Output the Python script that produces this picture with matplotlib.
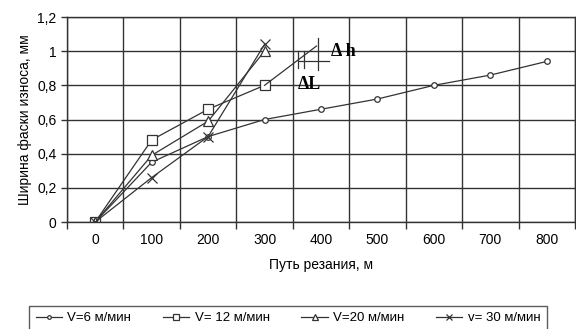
import matplotlib.pyplot as plt
import numpy as np

plt.rcParams['font.family'] = ['Liberation Sans', 'DejaVu Sans']

# путь резания, м
put = [0, 100, 200, 300, 400, 500, 600, 700, 800]
put_short = [0, 100, 200, 300]

v6 = [0, 0.35, 0.5, 0.6, 0.66, 0.72, 0.8, 0.86, 0.94]
v12 = [0, 0.48, 0.66, 0.8]
v20 = [0, 0.39, 0.59, 1.0]
v30 = [0, 0.26, 0.5, 1.04]

# продолжение кривой V=12 и построение dL / dh
ext_x = [300, 392]
ext_y = [0.8, 1.03]

y_ticks = [0, 0.2, 0.4, 0.6, 0.8, 1.0, 1.2]
y_labels = ['0', '0,2', '0,4', '0,6', '0,8', '1', '1,2']

fig = plt.figure(figsize=(5.76, 3.29), dpi=100)
ax = fig.add_axes([67 / 576, 1 - 222 / 329, 508 / 576, 205 / 329])

kw = dict(color='#333333', lw=0.9, mfc='white', mec='#333333', mew=0.9)
ax.plot(put, v6, marker='o', ms=4, label='V=6 м/мин', **kw)
ax.plot(put_short, v12, marker='s', ms=7, label='V= 12 м/мин', **kw)
ax.plot(put_short, v20, marker='^', ms=7, label='V=20 м/мин', **kw)
ax.plot(put_short, v30, marker='x', ms=7, label='v= 30 м/мин', **kw)

ax.plot(ext_x, ext_y, color='#333333', lw=0.9)
ax.plot([360, 415], [0.94, 0.94], color='#333333', lw=0.9)
ax.plot([360, 360], [0.9, 1.0], color='#333333', lw=0.9)
ax.plot([369, 369], [0.9, 1.0], color='#333333', lw=0.9)
ax.plot([394, 394], [0.89, 1.08], color='#333333', lw=0.9)
ax.text(418, 1.0, '\u0394 h', fontsize=13, fontweight='bold', family='Liberation Serif',
        va='center', ha='left')
ax.text(358, 0.805, '\u0394L', fontsize=13, fontweight='bold', family='Liberation Serif',
        va='center', ha='left')

ax.set_xlim(-50, 850)
ax.set_ylim(0, 1.2)
ax.set_xticks(put)
ax.set_xticks(np.arange(-50, 851, 100), minor=True)
ax.set_yticks(y_ticks)
ax.set_yticklabels(y_labels)
ax.tick_params(axis='x', which='major', length=0, labelsize=10, pad=8)
ax.tick_params(axis='x', which='minor', length=5, width=1, color='#333333', direction='out')
ax.tick_params(axis='y', length=4, width=1, color='#333333', labelsize=10)
ax.grid(True, which='minor', axis='x', color='#333333', lw=1)
ax.grid(True, which='major', axis='y', color='#333333', lw=1)
for s in ax.spines.values():
    s.set_color('#333333')
    s.set_linewidth(1)

ax.set_xlabel('Путь резания, м', fontsize=10, labelpad=8)
ax.set_ylabel('Ширина фаски износа, мм', fontsize=10, labelpad=4)

leg = fig.legend(loc='lower center', bbox_to_anchor=(288 / 576, -6 / 329), ncol=4,
                 fontsize=9.5, frameon=True, fancybox=False, edgecolor='#333333',
                 handlelength=2.0, columnspacing=2.4, handletextpad=0.4,
                 borderpad=0.5, borderaxespad=0.3, markerscale=0.65)
leg.get_frame().set_linewidth(1)

fig.savefig('out.png', dpi=100)
